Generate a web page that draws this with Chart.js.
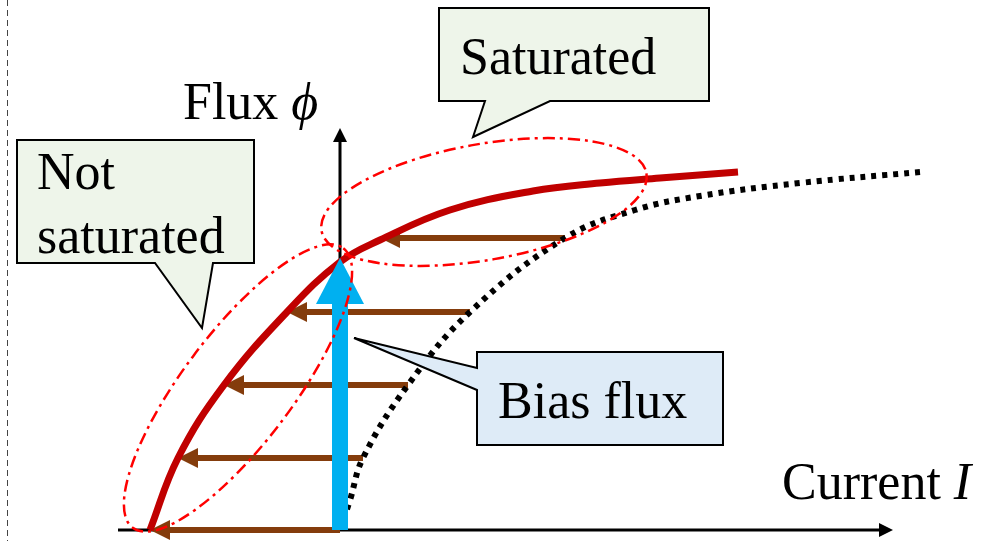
<!DOCTYPE html>
<html>
<head>
<meta charset="utf-8">
<script src="https://cdn.jsdelivr.net/npm/chart.js@4"></script>
<style>
  html, body { margin: 0; padding: 0; background: #fff; }
  #wrap { width: 988px; height: 541px; }
</style>
</head>
<body>
<div id="wrap"><canvas id="chart" width="988" height="541"></canvas></div>
<script>
// curva real (vermelha): corrente x fluxo
const currentMain = [-190, -162, -116, -53, 0, 40, 110, 193, 260, 320, 398];
const fluxMain    = [0, 72, 145, 218, 268, 290, 320, 339, 347, 352, 358];

// curva deslocada (pontilhada)
const currentShift = [0, 10, 23, 68, 130, 225, 295, 360, 460, 580];
const fluxShift    = [0, 30, 72, 145, 218, 292, 320, 334, 347, 358];

// setas marrons (da curva pontilhada para a vermelha)
const arrowFlux = [0, 72, 145, 218, 292];
const arrowTail = [0, 23, 68, 130, 225];
const arrowTip  = [-190, -162, -116, -53, 40];

// fluxo de polarizacao
const biasFlux = 272;

// eixos
const xAxisRange = [-222, 553];
const yAxisRange = [0, 402];

function toPoints(xs, ys) {
    return xs.map((x, i) => ({ x: x, y: ys[i] }));
}

const diagramPlugin = {
    id: 'diagram',
    beforeDatasetsDraw(chart) {
        const ctx = chart.ctx;
        const sx = chart.scales.x, sy = chart.scales.y;
        const px = v => sx.getPixelForValue(v);
        const py = v => sy.getPixelForValue(v);
        ctx.save();

        // linha tracejada na borda esquerda
        ctx.strokeStyle = '#444';
        ctx.lineWidth = 1;
        ctx.setLineDash([6, 4]);
        ctx.beginPath();
        ctx.moveTo(px(-333) + 0.5, 0);
        ctx.lineTo(px(-333) + 0.5, chart.height);
        ctx.stroke();
        ctx.setLineDash([]);

        // eixos
        ctx.strokeStyle = '#000';
        ctx.fillStyle = '#000';
        ctx.lineWidth = 3;
        ctx.beginPath();
        ctx.moveTo(px(xAxisRange[0]), py(0));
        ctx.lineTo(px(xAxisRange[1]) - 10, py(0));
        ctx.moveTo(px(0), py(0));
        ctx.lineTo(px(0), py(yAxisRange[1]) + 10);
        ctx.stroke();
        ctx.beginPath();
        ctx.moveTo(px(xAxisRange[1]), py(0));
        ctx.lineTo(px(xAxisRange[1]) - 14, py(0) - 7);
        ctx.lineTo(px(xAxisRange[1]) - 14, py(0) + 7);
        ctx.closePath();
        ctx.fill();
        ctx.beginPath();
        ctx.moveTo(px(0), py(yAxisRange[1]));
        ctx.lineTo(px(0) - 7, py(yAxisRange[1]) + 14);
        ctx.lineTo(px(0) + 7, py(yAxisRange[1]) + 14);
        ctx.closePath();
        ctx.fill();

        // setas marrons
        ctx.strokeStyle = '#843C0C';
        ctx.fillStyle = '#843C0C';
        ctx.lineWidth = 6;
        arrowFlux.forEach((f, i) => {
            const y = py(f);
            const x0 = px(arrowTail[i]);
            const x1 = px(arrowTip[i]);
            ctx.beginPath();
            ctx.moveTo(x0, y);
            ctx.lineTo(x1 + 16, y);
            ctx.stroke();
            ctx.beginPath();
            ctx.moveTo(x1, y);
            ctx.lineTo(x1 + 20, y - 10);
            ctx.lineTo(x1 + 20, y + 10);
            ctx.closePath();
            ctx.fill();
        });
        ctx.restore();
    },
    afterDatasetsDraw(chart) {
        const ctx = chart.ctx;
        const sx = chart.scales.x, sy = chart.scales.y;
        const px = v => sx.getPixelForValue(v);
        const py = v => sy.getPixelForValue(v);
        ctx.save();

        // seta azul (fluxo de polarizacao)
        ctx.fillStyle = '#00B0F0';
        const bx = px(0);
        const headBase = py(biasFlux) + 46;
        ctx.fillRect(bx - 8, headBase - 1, 16, py(0) - headBase + 1);
        ctx.beginPath();
        ctx.moveTo(bx, py(biasFlux));
        ctx.lineTo(bx - 24, headBase);
        ctx.lineTo(bx + 24, headBase);
        ctx.closePath();
        ctx.fill();

        // elipses traco-ponto
        ctx.strokeStyle = '#FF0000';
        ctx.lineWidth = 2.5;
        ctx.setLineDash([12, 5, 3, 5]);
        ctx.beginPath();
        ctx.ellipse(px(144), py(328), 165, 58, -10 * Math.PI / 180, 0, Math.PI * 2);
        ctx.stroke();
        ctx.beginPath();
        ctx.ellipse(px(-102), py(142), 175, 55, -53 * Math.PI / 180, 0, Math.PI * 2);
        ctx.stroke();
        ctx.setLineDash([]);

        // baloes
        function callout(pts, fill) {
            ctx.beginPath();
            pts.forEach((p, i) => {
                if (i === 0) ctx.moveTo(px(p[0]), py(p[1]));
                else ctx.lineTo(px(p[0]), py(p[1]));
            });
            ctx.closePath();
            ctx.fillStyle = fill;
            ctx.fill();
            ctx.strokeStyle = '#000';
            ctx.lineWidth = 2;
            ctx.lineJoin = 'miter';
            ctx.stroke();
        }
        callout([[99, 522], [369, 522], [369, 429], [210, 429], [133, 393], [145, 429], [99, 429]], '#EEF5EA');
        callout([[-323, 390], [-86, 390], [-86, 267], [-127, 267], [-138, 202], [-185, 267], [-323, 267]], '#EEF5EA');
        callout([[137, 178], [383, 178], [383, 85], [137, 85], [137, 140], [14, 192], [137, 162]], '#DEEBF7');

        // textos
        ctx.fillStyle = '#000';
        ctx.textBaseline = 'alphabetic';
        ctx.textAlign = 'left';
        const serif = "'Liberation Serif', 'Times New Roman', serif";
        ctx.font = '52px ' + serif;
        ctx.fillText('Saturated', px(120), py(456));
        ctx.fillText('Not', px(-303), py(341));
        ctx.fillText('saturated', px(-303), py(277));
        ctx.fillText('Bias flux', px(158), py(112));

        let w = ctx.measureText('Flux ').width;
        ctx.fillText('Flux ', px(-157), py(411));
        ctx.font = 'italic 52px ' + serif;
        ctx.fillText('\u03D5', px(-157) + w, py(411));

        ctx.font = '52px ' + serif;
        w = ctx.measureText('Current ').width;
        ctx.fillText('Current ', px(442), py(31));
        ctx.font = 'italic 52px ' + serif;
        ctx.fillText('I', px(442) + w, py(31));
        ctx.restore();
    }
};

const ctxChart = document.getElementById('chart').getContext('2d');
const fluxChart = new Chart(ctxChart, {
    type: 'scatter',
    data: {
        datasets: [
            {
                label: 'Flux',
                data: toPoints(currentMain, fluxMain),
                showLine: true,
                borderColor: '#C00000',
                borderWidth: 7,
                pointRadius: 0,
                tension: 0.4,
                borderCapStyle: 'butt'
            },
            {
                label: 'Shifted',
                data: toPoints(currentShift, fluxShift),
                showLine: true,
                borderColor: '#000000',
                borderWidth: 6,
                borderDash: [5, 6],
                pointRadius: 0,
                tension: 0.4,
                borderCapStyle: 'butt'
            }
        ]
    },
    options: {
        responsive: false,
        animation: false,
        layout: { padding: 0 },
        scales: {
            x: { type: 'linear', min: -340, max: 648, display: false },
            y: { type: 'linear', min: -11, max: 530, display: false }
        },
        plugins: {
            legend: { display: false },
            tooltip: { enabled: false }
        }
    },
    plugins: [diagramPlugin]
});
</script>
</body>
</html>
